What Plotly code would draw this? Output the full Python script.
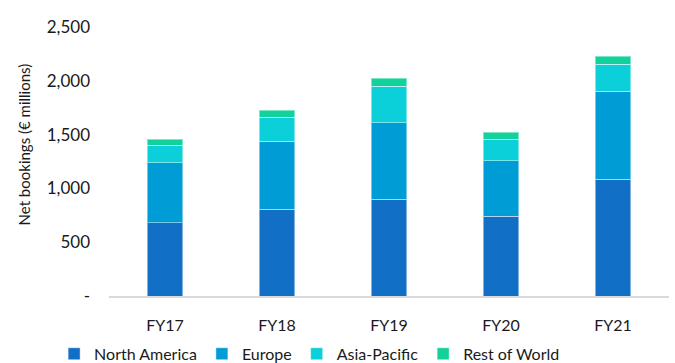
import plotly.graph_objects as go

years = ["FY17", "FY18", "FY19", "FY20", "FY21"]
north_america = [681, 808, 898, 741, 1084]
europe = [558, 629, 713, 514, 818]
asia_pacific = [161, 224, 338, 201, 251]
rest_of_world = [56, 65, 77, 68, 77]

series = [
    ("North America", north_america, "#116FC6"),
    ("Europe", europe, "#009CD6"),
    ("Asia-Pacific", asia_pacific, "#0BCFD9"),
    ("Rest of World", rest_of_world, "#12D19B"),
]

tick_vals = [0, 500, 1000, 1500, 2000, 2500]
tick_text = ["-", "500", "1,000", "1,500", "2,000", "2,500"]
y_title = "Net bookings (€ millions)"

fig = go.Figure()
for name, vals, color in series:
    fig.add_trace(go.Bar(
        x=years, y=vals, name=name,
        marker=dict(color=color, line=dict(color="rgba(255,255,255,0.45)", width=1)),
    ))

fig.update_layout(
    barmode="stack",
    bargap=0.68,
    width=675, height=363,
    margin=dict(l=109, r=6, t=27, b=67, autoexpand=False),
    paper_bgcolor="white", plot_bgcolor="white",
    font=dict(family="Lato", color="#1a1a1a"),
    showlegend=True,
    legend=dict(
        orientation="h", x=-0.098, xanchor="left",
        y=-0.215, yanchor="middle",
        font=dict(size=16), itemwidth=30, traceorder="normal",
    ),
    annotations=[dict(
        text=y_title, textangle=-90, xref="paper", yref="paper",
        x=-0.152, y=0.563, xanchor="center", yanchor="middle",
        showarrow=False, font=dict(size=15, color="#1a1a1a"),
    )],
)
fig.update_xaxes(
    showgrid=False, showline=True, linecolor="#D9D9D9", linewidth=1.5,
    ticks="", tickfont=dict(size=16), ticklabelstandoff=14,
)
fig.update_yaxes(
    range=[0, 2500], showgrid=False, zeroline=False, showline=False,
    tickvals=tick_vals, ticktext=tick_text, tickfont=dict(size=17),
    ticklabelstandoff=18,
)

fig.write_html("out.html")
